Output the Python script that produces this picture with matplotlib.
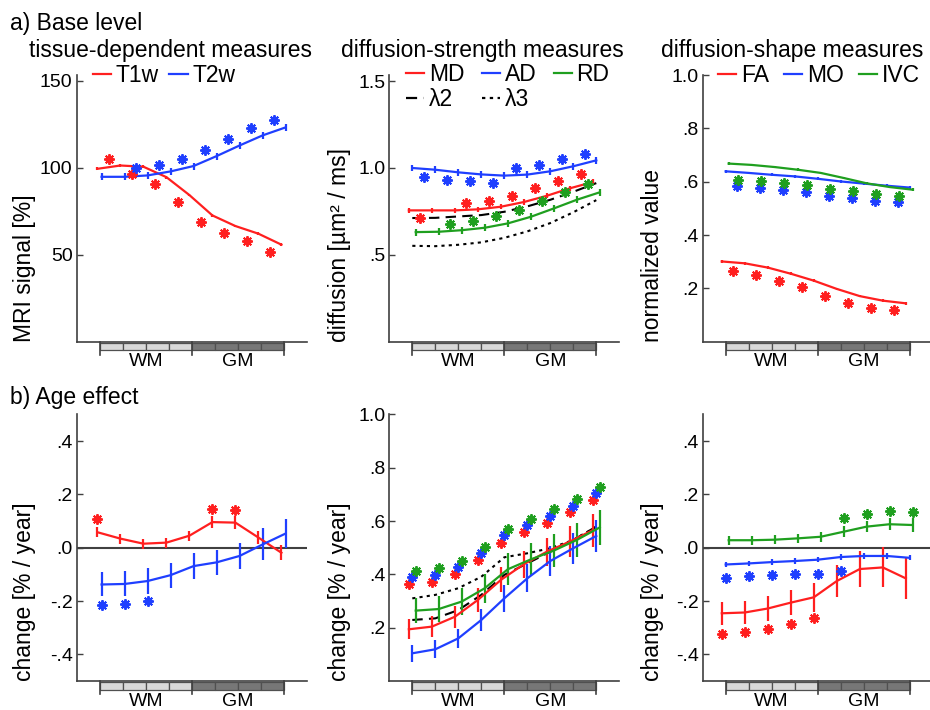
import numpy as np
import matplotlib
matplotlib.use("Agg")
from matplotlib import pyplot as plt
from matplotlib.patches import Rectangle
from matplotlib.lines import Line2D

plt.rcParams['font.family'] = ['Liberation Sans', 'DejaVu Sans']

nan = np.nan
RED = '#ff1f1f'
BLUE = '#1f3fff'
GREEN = '#1f9f1f'

# ---- a) base level ----
t1w_base = [99.4, 101.3, 100.6, 94.6, 84.3, 72.6, 66.5, 62.1, 55.8]
t2w_base = [94.8, 94.8, 95.6, 97.9, 101.0, 106.7, 112.8, 118.6, 123.2]
t1w_base_err = [0.8] * 9
t2w_base_err = [2.0] * 9
t1w_base_sig = [105.2, 96.6, 90.4, 80.3, 69.0, 62.5, 57.9, 51.7]
t2w_base_sig = [nan, 99.6, 101.7, 105.0, 110.5, 116.7, 122.8, 127.4]

md_base = [0.756, 0.756, 0.756, 0.762, 0.777, 0.804, 0.840, 0.883, 0.919]
ad_base = [1.000, 0.990, 0.975, 0.963, 0.956, 0.962, 0.981, 1.010, 1.044]
rd_base = [0.631, 0.633, 0.642, 0.656, 0.681, 0.719, 0.767, 0.817, 0.860]
l2_base = [0.712, 0.713, 0.721, 0.729, 0.748, 0.779, 0.817, 0.863, 0.913]
l3_base = [0.552, 0.550, 0.558, 0.572, 0.598, 0.635, 0.683, 0.745, 0.815]
md_base_err = [0.015] * 9
ad_base_err = [0.02] * 9
rd_base_err = [0.02] * 9
md_base_sig = [0.713, nan, 0.798, 0.812, 0.840, 0.883, 0.925, 0.965]
ad_base_sig = [0.948, 0.933, 0.923, 0.913, 0.998, 1.019, 1.052, 1.083]
rd_base_sig = [nan, 0.679, 0.694, 0.721, 0.760, 0.810, 0.862, 0.906]

fa_base = [0.301, 0.294, 0.278, 0.255, 0.229, 0.198, 0.171, 0.154, 0.144]
mo_base = [0.639, 0.633, 0.626, 0.620, 0.611, 0.601, 0.593, 0.585, 0.578]
ivc_base = [0.668, 0.663, 0.655, 0.645, 0.633, 0.614, 0.594, 0.580, 0.570]
shape_base_err = [0.005] * 9
fa_base_sig = [0.266, 0.251, 0.229, 0.204, 0.173, 0.145, 0.128, 0.119]
mo_base_sig = [0.583, 0.575, 0.568, 0.560, 0.548, 0.539, 0.529, 0.523]
ivc_base_sig = [0.608, 0.601, 0.594, 0.586, 0.574, 0.566, 0.554, 0.548]

# ---- b) age effect ----
t1w_age = [0.058, 0.034, 0.015, 0.019, 0.045, 0.096, 0.094, 0.038, -0.019]
t2w_age = [-0.138, -0.136, -0.125, -0.103, -0.069, -0.055, -0.031, 0.012, 0.053]
t1w_age_err = [0.019, 0.019, 0.019, 0.019, 0.019, 0.023, 0.023, 0.026, 0.028]
t2w_age_err = [0.045, 0.047, 0.047, 0.047, 0.048, 0.048, 0.048, 0.060, 0.055]
t1w_age_sig = [0.109, nan, nan, nan, nan, 0.146, 0.141, nan, nan]
t2w_age_sig = [-0.215, -0.211, -0.200, nan, nan, nan, nan, nan, nan]

md_age = [0.194, 0.204, 0.241, 0.304, 0.379, 0.438, 0.485, 0.523, 0.566]
ad_age = [0.104, 0.119, 0.160, 0.229, 0.310, 0.385, 0.450, 0.498, 0.544]
rd_age = [0.264, 0.270, 0.298, 0.348, 0.419, 0.456, 0.489, 0.529, 0.576]
l2_age = [0.229, 0.235, 0.266, 0.323, 0.398, 0.441, 0.485, 0.529, 0.579]
l3_age = [0.310, 0.323, 0.348, 0.391, 0.464, 0.479, 0.498, 0.529, 0.579]
md_age_err = [0.038, 0.040, 0.042, 0.044, 0.047, 0.050, 0.053, 0.058, 0.062]
ad_age_err = [0.031, 0.033, 0.036, 0.040, 0.050, 0.052, 0.055, 0.058, 0.060]
rd_age_err = [0.047, 0.050, 0.052, 0.055, 0.060, 0.060, 0.062, 0.064, 0.065]
md_age_sig = [0.364, 0.373, 0.401, 0.453, 0.519, 0.559, 0.594, 0.633, 0.679]
ad_age_sig = [0.390, 0.398, 0.429, 0.479, 0.548, 0.584, 0.618, 0.658, 0.704]
rd_age_sig = [0.413, 0.423, 0.450, 0.504, 0.571, 0.608, 0.644, 0.684, 0.729]

fa_age = [-0.246, -0.243, -0.228, -0.206, -0.186, -0.125, -0.080, -0.074, -0.115]
mo_age = [-0.063, -0.059, -0.054, -0.050, -0.045, -0.035, -0.031, -0.031, -0.038]
ivc_age = [0.028, 0.028, 0.030, 0.035, 0.041, 0.060, 0.079, 0.088, 0.085]
fa_age_err = [0.044, 0.044, 0.046, 0.047, 0.054, 0.061, 0.069, 0.075, 0.076]
mo_age_err = [0.010] * 9
ivc_age_err = [0.017, 0.017, 0.017, 0.018, 0.018, 0.020, 0.022, 0.023, 0.025]
fa_age_sig = [-0.325, -0.318, -0.305, -0.286, -0.263, nan, nan, nan, nan]
mo_age_sig = [-0.113, -0.108, -0.103, -0.098, -0.098, -0.088, nan, nan, nan]
ivc_age_sig = [nan, nan, nan, nan, nan, 0.110, 0.128, 0.139, 0.134]

regions = ['WM', 'GM']
STAR = (8, 2, 0)


def setup_axes(ax, ylim, yticks, yticklabels, ylabel, label_x):
    ax.set_xlim(-1, 9)
    ax.set_ylim(*ylim)
    ax.set_xticks([])
    ax.set_yticks(yticks)
    ax.set_yticklabels(yticklabels)
    for side in ('top', 'right'):
        ax.spines[side].set_visible(False)
    for side in ('left', 'bottom'):
        ax.spines[side].set_color('#404040')
        ax.spines[side].set_linewidth(1.2)
    ax.tick_params(axis='y', direction='in', length=4, width=1, color='#404040',
                   labelsize=14, pad=3)
    ax.set_ylabel(ylabel, fontsize=16.5, loc='bottom')
    ax.yaxis.set_label_coords(label_x, 0)
    # WM / GM region bar under the x axis
    tr = ax.get_xaxis_transform()
    for i in range(8):
        ax.add_patch(Rectangle((i, -0.032), 1, 0.027, transform=tr,
                               facecolor='#d9d9d9' if i < 4 else '#777777',
                               edgecolor='#505050', lw=0.9, clip_on=False))
    for x in (0, 4, 8):
        ax.plot([x, x], [0, -0.048], transform=tr, color='#404040', lw=1.2,
                clip_on=False)
    ax.text(2, -0.075, regions[0], transform=tr, ha='center', va='center', fontsize=14)
    ax.text(6, -0.075, regions[1], transform=tr, ha='center', va='center', fontsize=14)


def series(ax, vals, err, sig, color, dx, sig_dx, between):
    x = np.arange(len(vals)) + dx
    ax.errorbar(x, vals, yerr=err, color=color, lw=1.6, elinewidth=1.6, capsize=0, zorder=3)
    xs = np.arange(len(sig)) + sig_dx + (0.5 if between else 0)
    ax.plot(xs, sig, ls='none', marker=STAR, ms=7.5, mew=1.4, color=color, zorder=4)


def legend(ax, items, anchor, ncol, colsp):
    handles = [Line2D([], [], color=c, ls=ls, lw=1.6) for c, ls, _ in items]
    labels = [t for _, _, t in items]
    ax.legend(handles, labels, loc='center left', bbox_to_anchor=anchor, ncol=ncol,
              frameon=False, fontsize=16.5, handlelength=0.8, handletextpad=0.2,
              columnspacing=colsp, borderpad=0, borderaxespad=0, labelspacing=0.05)


fig = plt.figure(figsize=(9.3, 7.1), dpi=100)
lefts = [0.0825, 0.4186, 0.7556]
w, h = 0.2473, 0.3756
ax1 = fig.add_axes([lefts[0], 0.5187, w, h])
ax2 = fig.add_axes([lefts[1], 0.5187, w, h])
ax3 = fig.add_axes([lefts[2], 0.5187, w, h])
ax4 = fig.add_axes([lefts[0], 0.0408, w, h])
ax5 = fig.add_axes([lefts[1], 0.0408, w, h])
ax6 = fig.add_axes([lefts[2], 0.0408, w, h])

# tissue-dependent, base level
setup_axes(ax1, (0, 153.3), [50, 100, 150], ['50', '100', '150'], 'MRI signal [%]', -0.175)
series(ax1, t1w_base, t1w_base_err, t1w_base_sig, RED, -0.1, -0.1, True)
series(ax1, t2w_base, t2w_base_err, t2w_base_sig, BLUE, 0.08, 0.08, True)
legend(ax1, [(RED, '-', 'T1w'), (BLUE, '-', 'T2w')], (0.07, 1.0), 2, 0.45)

# diffusion-strength, base level
setup_axes(ax2, (0, 1.535), [0.5, 1.0, 1.5], ['.5', '1.0', '1.5'],
           'diffusion [µm² / ms]', -0.165)
ax2.plot(np.arange(9), l2_base, color='black', ls=(0, (5, 3)), lw=1.5, zorder=2)
ax2.plot(np.arange(9), l3_base, color='black', ls=(0, (1.5, 2)), lw=1.5, zorder=2)
series(ax2, md_base, md_base_err, md_base_sig, RED, -0.15, -0.15, True)
series(ax2, ad_base, ad_base_err, ad_base_sig, BLUE, 0.0, 0.0, True)
series(ax2, rd_base, rd_base_err, rd_base_sig, GREEN, 0.15, 0.15, True)
legend(ax2, [(RED, '-', 'MD'), ('black', (0, (5, 3)), 'λ2'), (BLUE, '-', 'AD'),
             ('black', (0, (1.5, 2)), 'λ3'), (GREEN, '-', 'RD')], (0.073, 0.955), 3, 0.75)

# diffusion-shape, base level
setup_axes(ax3, (0, 1.0), [0.2, 0.4, 0.6, 0.8, 1.0], ['.2', '.4', '.6', '.8', '1.0'],
           'normalized value', -0.168)
series(ax3, fa_base, shape_base_err, fa_base_sig, RED, -0.17, -0.17, True)
series(ax3, mo_base, shape_base_err, mo_base_sig, BLUE, 0.0, -0.02, True)
series(ax3, ivc_base, shape_base_err, ivc_base_sig, GREEN, 0.13, 0.03, True)
legend(ax3, [(RED, '-', 'FA'), (BLUE, '-', 'MO'), (GREEN, '-', 'IVC')], (0.067, 1.0), 3, 0.65)

age_ticks = [-0.4, -0.2, 0.0, 0.2, 0.4]
age_labels = ['-.4', '-.2', '.0', '.2', '.4']

# tissue-dependent, age effect
setup_axes(ax4, (-0.5, 0.5), age_ticks, age_labels, 'change [% / year]', -0.177)
ax4.axhline(0, color='#404040', lw=1.5, zorder=1)
series(ax4, t1w_age, t1w_age_err, t1w_age_sig, RED, -0.1, -0.1, False)
series(ax4, t2w_age, t2w_age_err, t2w_age_sig, BLUE, 0.08, 0.08, False)

# diffusion-strength, age effect
setup_axes(ax5, (0, 1.0), [0.2, 0.4, 0.6, 0.8, 1.0], ['.2', '.4', '.6', '.8', '1.0'],
           'change [% / year]', -0.165)
ax5.plot(np.arange(9), l2_age, color='black', ls=(0, (5, 3)), lw=1.5, zorder=2)
ax5.plot(np.arange(9), l3_age, color='black', ls=(0, (1.5, 2)), lw=1.5, zorder=2)
series(ax5, md_age, md_age_err, md_age_sig, RED, -0.15, -0.15, False)
series(ax5, ad_age, ad_age_err, ad_age_sig, BLUE, 0.0, 0.0, False)
series(ax5, rd_age, rd_age_err, rd_age_sig, GREEN, 0.15, 0.15, False)

# diffusion-shape, age effect
setup_axes(ax6, (-0.5, 0.5), age_ticks, age_labels, 'change [% / year]', -0.168)
ax6.axhline(0, color='#404040', lw=1.5, zorder=1)
series(ax6, fa_age, fa_age_err, fa_age_sig, RED, -0.17, -0.17, False)
series(ax6, mo_age, mo_age_err, mo_age_sig, BLUE, 0.0, 0.0, False)
series(ax6, ivc_age, ivc_age_err, ivc_age_sig, GREEN, 0.13, 0.13, False)

# panel headings
fig.text(0.011, 1 - 30 / 710, 'a) Base level', fontsize=16.5, va='baseline')
fig.text(0.011, 1 - 404 / 710, 'b) Age effect', fontsize=16.5, va='baseline')
fig.text(170 / 930, 1 - 57 / 710, 'tissue-dependent measures', fontsize=16.5,
         ha='center', va='baseline')
fig.text(482 / 930, 1 - 57 / 710, 'diffusion-strength measures', fontsize=16.5,
         ha='center', va='baseline')
fig.text(792 / 930, 1 - 57 / 710, 'diffusion-shape measures', fontsize=16.5,
         ha='center', va='baseline')

fig.savefig('out.png', dpi=100)
